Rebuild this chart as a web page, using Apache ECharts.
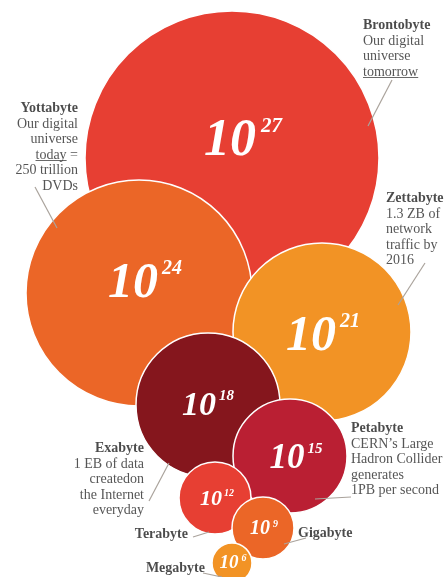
<!DOCTYPE html>
<html><head><meta charset="utf-8">
<script src="https://cdn.jsdelivr.net/npm/echarts@6/dist/echarts.min.js"></script>
<style>html,body{margin:0;padding:0;background:#fff}#c{width:444px;height:577px}</style>
</head><body><div id="c"></div>
<script>
// ---- data ----
const units = ['Brontobyte','Yottabyte','Zettabyte','Exabyte','Petabyte','Terabyte','Gigabyte','Megabyte'];
const exponents = [27, 24, 21, 18, 15, 12, 9, 6];
// bubble layout (abstract layout units)
const bubbleX = [232, 139, 322, 208, 290, 215, 263, 232];
const bubbleY = [158, 293, 332, 405, 456, 498, 528, 563];
const bubbleR = [147, 113, 89, 72, 57, 36, 31, 20];
// annotation text lines (tokens: [style, text])
const noteLines = [
  [[['t','Brontobyte']],[['n','Our digital']],[['n','universe']],[['u','tomorrow']]],
  [[['t','Yottabyte']],[['n','Our digital']],[['n','universe']],[['u','today'],['n',' =']],[['n','250 trillion']],[['n','DVDs']]],
  [[['t','Zettabyte']],[['n','1.3 ZB of']],[['n','network']],[['n','traffic by']],[['n','2016']]],
  [[['t','Exabyte']],[['n','1 EB of data']],[['n','createdon']],[['n','the Internet']],[['n','everyday']]],
  [[['t','Petabyte']],[['n','CERN\u2019s Large']],[['n','Hadron Collider']],[['n','generates']],[['n','1PB per second']]],
  [[['t','Terabyte']]],
  [[['t','Gigabyte']]],
  [[['t','Megabyte']]]
];

// ---- styling / placement ----
const colors = ['#E73F33','#EB6627','#F29325','#85161D','#BA1F33','#E73F33','#EB6627','#F29325'];
const bigFont = [52, 50, 50, 34, 35, 22, 20, 19];
const supFont = [21, 20, 20, 15, 15, 10, 10, 10];
const supGap = [5, 4, 4, 3, 3, 2, 3, 3];
const labelShift = [[11,-16],[6,-9],[1,5],[0,1],[6,3],[2,1],[1,1],[1,0]];
const noteAnchor = [[363,18,'left'],[78,101,'right'],[386,191,'left'],[144,441,'right'],[351,421,'left'],[188,527,'right'],[298,526,'left'],[205,561,'right']];
const leaders = [
  [[392,80],[368,126]],
  [[35,187],[57,228]],
  [[425,263],[398,305]],
  [[149,501],[169,463]],
  [[351,497],[315,499]],
  [[193,537],[209,532]],
  [[306,538],[284,544]],
  [[203,573],[222,577]]
];

const FONT = '"Liberation Serif", "Times New Roman", serif';
const chart = echarts.init(document.getElementById('c'), null, {renderer: 'canvas'});

const underlineBg = new echarts.graphic.LinearGradient(0, 0, 0, 1, [
  {offset: 0, color: 'rgba(0,0,0,0)'},
  {offset: 0.87, color: 'rgba(0,0,0,0)'},
  {offset: 0.87, color: '#444'},
  {offset: 0.94, color: '#444'},
  {offset: 0.94, color: 'rgba(0,0,0,0)'},
  {offset: 1, color: 'rgba(0,0,0,0)'}
]);

const bubbleData = units.map((u, i) => ({
  name: u,
  value: [bubbleX[i], bubbleY[i]],
  symbolSize: bubbleR[i] * 2,
  itemStyle: {color: colors[i]},
  label: {
    offset: labelShift[i],
    formatter: '{b|10}{s|' + exponents[i] + '}',
    rich: {
      b: {fontFamily: FONT, fontStyle: 'italic', fontWeight: 'bold', fontSize: bigFont[i], lineHeight: bigFont[i], color: '#fff'},
      s: {fontFamily: FONT, fontStyle: 'italic', fontWeight: 'bold', fontSize: supFont[i], lineHeight: supFont[i], color: '#fff', verticalAlign: 'top', padding: [0, 0, 0, supGap[i]]}
    }
  }
}));

const noteData = units.map((u, i) => ({
  name: u,
  value: [noteAnchor[i][0], noteAnchor[i][1]],
  label: {
    align: noteAnchor[i][2],
    formatter: noteLines[i].map(line => line.map(tk => '{' + tk[0] + '|' + tk[1] + '}').join('')).join('\n')
  }
}));

chart.setOption({
  animation: false,
  backgroundColor: '#fff',
  grid: {left: 0, right: 0, top: 0, bottom: 0},
  xAxis: {type: 'value', min: 0, max: 444, show: false},
  yAxis: {type: 'value', min: 0, max: 577, inverse: true, show: false},
  series: [
    {
      type: 'scatter',
      silent: true,
      clip: false,
      symbol: 'circle',
      itemStyle: {borderColor: '#fff', borderWidth: 1.5, opacity: 1},
      emphasis: {disabled: true},
      label: {show: true, position: 'inside'},
      data: bubbleData,
      z: 2
    },
    {
      type: 'lines',
      coordinateSystem: 'cartesian2d',
      silent: true,
      lineStyle: {color: '#aaa39c', width: 1.2, opacity: 1},
      data: leaders.map(c => ({coords: c})),
      z: 3
    },
    {
      type: 'scatter',
      silent: true,
      symbolSize: 0,
      clip: false,
      emphasis: {disabled: true},
      label: {
        show: true,
        position: 'inside',
        verticalAlign: 'top',
        rich: {
          t: {fontFamily: FONT, fontWeight: 'bold', fontSize: 14, lineHeight: 15.5, color: '#1e1e1e'},
          n: {fontFamily: FONT, fontSize: 14, lineHeight: 15.5, color: '#2b2b2b'},
          u: {fontFamily: FONT, fontSize: 14, lineHeight: 15.5, color: '#2b2b2b', backgroundColor: underlineBg}
        }
      },
      data: noteData,
      z: 4
    }
  ]
});
</script>
</body></html>
